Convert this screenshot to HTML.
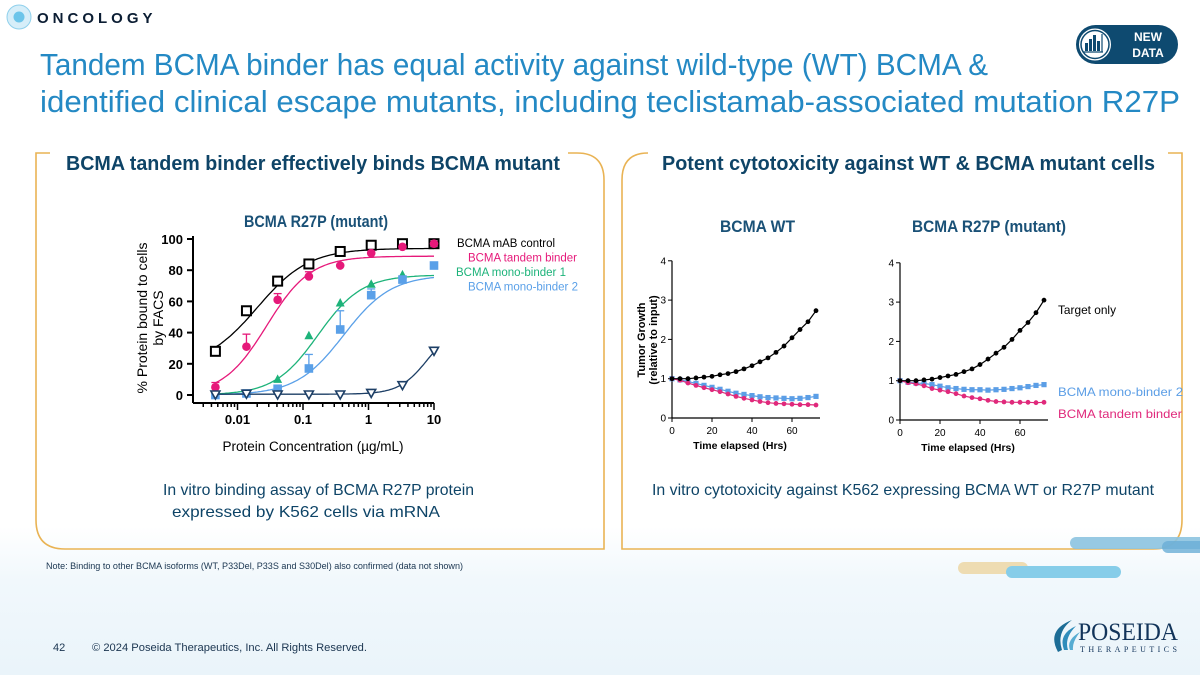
<!DOCTYPE html>
<html><head><meta charset="utf-8">
<style>
html,body{margin:0;padding:0;width:1200px;height:675px;overflow:hidden;background:#fff;}
svg text{font-family:"Liberation Sans",sans-serif;}
</style></head>
<body>
<svg id="slide" width="1200" height="675" viewBox="0 0 1200 675" xmlns="http://www.w3.org/2000/svg">
<defs>
<linearGradient id="bg" x1="0" y1="0" x2="0" y2="1">
<stop offset="0" stop-color="#ffffff"/><stop offset="0.78" stop-color="#ffffff"/><stop offset="0.86" stop-color="#f1f8fc"/><stop offset="1" stop-color="#eaf4fa"/>
</linearGradient>
</defs>
<rect width="1200" height="675" fill="url(#bg)"/>

<g>
<circle cx="19" cy="17" r="12" fill="#d6eef9" stroke="#8fd0ec" stroke-width="1"/>
<circle cx="19" cy="17" r="5.5" fill="#6cc5ea"/>
<text x="37" y="23" font-size="15" font-weight="bold" fill="#0b1d33" letter-spacing="4">ONCOLOGY</text>
</g>

<g>
<rect x="1076" y="25" width="102" height="39" rx="19.5" fill="#0e4a70"/>
<circle cx="1095" cy="44.5" r="17" fill="#fff" stroke="#0e4a70" stroke-width="2"/>
<circle cx="1095" cy="44.5" r="14" fill="none" stroke="#0e4a70" stroke-width="1.5"/>
<rect x="1085" y="43" width="3" height="8" fill="#0e4a70"/><rect x="1089" y="39" width="3" height="12" fill="#0e4a70"/><rect x="1093" y="35" width="3" height="16" fill="#0e4a70"/><rect x="1097" y="41" width="3" height="10" fill="#0e4a70"/>
<line x1="1102" y1="34" x2="1102" y2="52" stroke="#0e4a70" stroke-width="1.2"/><line x1="1083" y1="52" x2="1103" y2="52" stroke="#0e4a70" stroke-width="1.2"/>
<text x="1148" y="41" font-size="12" font-weight="bold" fill="#fff" text-anchor="middle">NEW</text>
<text x="1148" y="57" font-size="12" font-weight="bold" fill="#fff" text-anchor="middle">DATA</text>
</g>

<g fill="#2489c4" font-size="31">
<text x="40" y="75" textLength="948" lengthAdjust="spacingAndGlyphs">Tandem BCMA binder has equal activity against wild-type (WT) BCMA &amp;</text>
<text x="40" y="112" textLength="1140" lengthAdjust="spacingAndGlyphs">identified clinical escape mutants, including teclistamab-associated mutation R27P</text>
</g>

<g fill="none" stroke="#e9b354" stroke-width="1.6">
<path d="M50 153 H36 V520 Q36 549 65 549 H604 V180 Q604 153 577 153 H568"/>
<path d="M648 153 Q622 153 622 180 V549 H1153 Q1182 549 1182 520 V153 H1168"/>
</g>
<text x="66" y="170" font-size="20.5" font-weight="bold" fill="#0e4467" textLength="494" lengthAdjust="spacingAndGlyphs">BCMA tandem binder effectively binds BCMA mutant</text>
<text x="662" y="170" font-size="20.5" font-weight="bold" fill="#0e4467" textLength="493" lengthAdjust="spacingAndGlyphs">Potent cytotoxicity against WT &amp; BCMA mutant cells</text>

<text x="244" y="227" font-size="16.5" font-weight="bold" fill="#1a5177" textLength="144" lengthAdjust="spacingAndGlyphs">BCMA R27P (mutant)</text>
<text x="720" y="232" font-size="16.5" font-weight="bold" fill="#1a5177" textLength="75" lengthAdjust="spacingAndGlyphs">BCMA WT</text>
<text x="912" y="232" font-size="16.5" font-weight="bold" fill="#1a5177" textLength="154" lengthAdjust="spacingAndGlyphs">BCMA R27P (mutant)</text>

<g id="binding"></g>
<g id="cyto1"></g>
<g id="cyto2"></g>

<g font-size="16" fill="#0e4467">
<text x="163" y="495" textLength="311" lengthAdjust="spacingAndGlyphs">In vitro binding assay of BCMA R27P protein</text>
<text x="172" y="517" textLength="268" lengthAdjust="spacingAndGlyphs">expressed by K562 cells via mRNA</text>
</g>
<text x="652" y="495" font-size="16" fill="#0e4467" textLength="502" lengthAdjust="spacingAndGlyphs">In vitro cytotoxicity against K562 expressing BCMA WT or R27P mutant</text>

<text x="46" y="569" font-size="9" fill="#1a3550" textLength="417" lengthAdjust="spacingAndGlyphs">Note: Binding to other BCMA isoforms (WT, P33Del, P33S and S30Del) also confirmed (data not shown)</text>

<g>
<rect x="1070" y="537" width="140" height="12" rx="6" fill="#8cc3e0" opacity="0.9"/>
<rect x="1162" y="541" width="50" height="12" rx="6" fill="#6aaed6" opacity="0.8"/>
<rect x="958" y="562" width="70" height="12" rx="6" fill="#eedcb2"/>
<rect x="1006" y="566" width="115" height="12" rx="6" fill="#86cde9"/>
</g>

<text x="53" y="651" font-size="11" fill="#1a3550">42</text>
<text x="92" y="651" font-size="11" fill="#1a3550" textLength="275" lengthAdjust="spacingAndGlyphs">© 2024 Poseida Therapeutics, Inc. All Rights Reserved.</text>

<g>
<path d="M1058 652 Q1046 630 1072 620 Q1056 632 1062 650 Z" fill="#1c6d96"/>
<path d="M1064 650 Q1058 634 1076 626 Q1064 638 1068 650 Z" fill="#2f8dbb"/>
<path d="M1070 650 Q1066 640 1080 632 Q1072 642 1073 650 Z" fill="#56acd2"/>
<text x="1078" y="640" style="font-family:'Liberation Serif',serif" font-size="25" fill="#12345a" textLength="100" lengthAdjust="spacingAndGlyphs">POSEIDA</text>
<text x="1080" y="652" style="font-family:'Liberation Serif',serif" font-size="8" fill="#12345a" textLength="97" lengthAdjust="spacing">THERAPEUTICS</text>
</g>
</svg>

<script>
// ---------- Binding chart data ----------
const concentrations = [0.0046, 0.0137, 0.041, 0.123, 0.37, 1.1, 3.3, 10];
const mabControl     = [28, 54, 73, 84, 92, 96, 97, 97];
const tandemBinder   = [5, 31, 61, 76, 83, 91, 95, 97];
const monoBinder1    = [null, null, 10, 38, 59, 71, 77, null];
const monoBinder2    = [0, 1, 4, 17, 42, 64, 74, 83];
const isotypeNeg     = [0, 0.5, 0, 0, 0, 1, 6, 28];
const errTandem      = [8, 39, 65, 79, null, null, null, null];
const errMono2       = [null, null, null, 26, 54, 68, null, null];
// 4PL fit params: [bottom, top, EC50, hill]
const fitMab    = [18, 94, 0.02, 1.1];
const fitTandem = [0, 89, 0.028, 1.3];
const fitMono1  = [0, 77, 0.17, 1.3];
const fitMono2  = [0, 77, 0.42, 1.2];
const fitNeg    = [0.5, 45, 8, 2];
const yTicksB = [0, 20, 40, 60, 80, 100];
const xTicksB = [0.01, 0.1, 1, 10];

// ---------- Cytotoxicity data ----------
const hours = [0,4,8,12,16,20,24,28,32,36,40,44,48,52,56,60,64,68,72];
const wtTarget = [1,1,1,1.02,1.04,1.06,1.1,1.13,1.18,1.25,1.33,1.43,1.53,1.67,1.83,2.04,2.25,2.45,2.73];
const wtMono2  = [1,0.97,0.93,0.88,0.83,0.78,0.73,0.68,0.63,0.6,0.57,0.54,0.52,0.51,0.5,0.49,0.5,0.52,0.55];
const wtTandem = [1,0.96,0.89,0.83,0.77,0.72,0.67,0.61,0.55,0.5,0.46,0.42,0.39,0.37,0.36,0.35,0.34,0.34,0.33];
const mutTarget = [1,1,1,1.02,1.04,1.08,1.12,1.16,1.23,1.3,1.41,1.55,1.7,1.85,2.05,2.28,2.48,2.73,3.05];
const mutMono2  = [1,0.96,0.94,0.93,0.9,0.86,0.82,0.8,0.78,0.77,0.77,0.76,0.77,0.78,0.8,0.82,0.85,0.88,0.9];
const mutTandem = [1,0.95,0.92,0.87,0.8,0.76,0.72,0.67,0.61,0.57,0.54,0.5,0.47,0.46,0.45,0.45,0.45,0.44,0.45];
const yTicksC = [0,1,2,3,4];
const xTicksC = [0,20,40,60];

const NS = 'http://www.w3.org/2000/svg';
function mk(parent, tag, attrs, text){
  const e = document.createElementNS(NS, tag);
  for (const k in attrs) e.setAttribute(k, attrs[k]);
  if (text !== undefined) e.textContent = text;
  parent.appendChild(e);
  return e;
}

// ----- binding chart -----
(function(){
  const g = document.getElementById('binding');
  const x = v => 434 + (Math.log10(v) - 1) * 65.5;
  const y = v => 395 - v * 1.56;
  const fit = (p, v) => p[0] + (p[1]-p[0]) / (1 + Math.pow(10, (Math.log10(p[2]) - Math.log10(v)) * p[3]));
  let e;
  e = mk(g,'line',{x1:193,y1:236,x2:193,y2:403,stroke:'#000','stroke-width':2});
   
  e = mk(g,'line',{x1:193,y1:403,x2:434,y2:403,stroke:'#000','stroke-width':2});
   
  yTicksB.forEach(t=>{
    mk(g,'line',{x1:187,y1:y(t),x2:193,y2:y(t),stroke:'#000','stroke-width':2});
    e = mk(g,'text',{x:183,y:y(t)+5,'font-size':13,'font-weight':'bold','text-anchor':'end'},String(t));
     
  });
  for (let d=-3; d<=0; d++) for (let m=1; m<=9; m++){
    const v = m*Math.pow(10,d); const px = x(v);
    if (px < 193) continue;
    mk(g,'line',{x1:px,y1:403,x2:px,y2:m===1?410:407,stroke:'#000','stroke-width':1.5});
  }
  mk(g,'line',{x1:x(10),y1:403,x2:x(10),y2:410,stroke:'#000','stroke-width':1.5});
  xTicksB.forEach(t=>{
    e = mk(g,'text',{x:x(t),y:424,'font-size':13,'font-weight':'bold','text-anchor':'middle'},String(t));
     
  });
  e = mk(g,'text',{x:313,y:451,'font-size':13.5,'text-anchor':'middle'},'Protein Concentration (µg/mL)');
   
  const yt = mk(g,'g',{transform:'translate(147,318) rotate(-90)'});
   
  mk(yt,'text',{x:0,y:0,'font-size':14,'text-anchor':'middle'},'% Protein bound to cells');
  mk(yt,'text',{x:0,y:16,'font-size':14,'text-anchor':'middle'},'by FACS');

  const series = [
    {d:mabControl, p:fitMab, c:'#000000', shape:'osq', name:'mab-control'},
    {d:tandemBinder, p:fitTandem, c:'#e6197a', shape:'circ', name:'tandem-binder', err:errTandem},
    {d:monoBinder1, p:fitMono1, c:'#1db37a', shape:'tri', name:'mono-binder-1'},
    {d:monoBinder2, p:fitMono2, c:'#5aa0e8', shape:'sq', name:'mono-binder-2', err:errMono2},
    {d:isotypeNeg, p:fitNeg, c:'#1d3f66', shape:'dtri', name:'negative-control'}
  ];
  series.forEach(s=>{
    let pts=[];
    for (let i=0;i<=120;i++){ const lv = Math.log10(0.0046) + i*(1-Math.log10(0.0046))/120; const v=Math.pow(10,lv); pts.push(x(v).toFixed(1)+','+y(fit(s.p,v)).toFixed(1)); }
    const c = mk(g,'polyline',{points:pts.join(' '),fill:'none',stroke:s.c,'stroke-width':1.3});
    
    
    if (s.err) s.err.forEach((ev,i)=>{ if(ev===null) return;
      mk(g,'line',{x1:x(concentrations[i]),y1:y(s.d[i]),x2:x(concentrations[i]),y2:y(ev),stroke:s.c,'stroke-width':1.3});
      mk(g,'line',{x1:x(concentrations[i])-4,y1:y(ev),x2:x(concentrations[i])+4,y2:y(ev),stroke:s.c,'stroke-width':1.3});
    });
    s.d.forEach((v,i)=>{ if(v===null) return;
      const cx=x(concentrations[i]), cy=y(v); let m;
      if (s.shape==='osq') m=mk(g,'rect',{x:cx-4.5,y:cy-4.5,width:9,height:9,fill:'#fff',stroke:s.c,'stroke-width':2});
      else if (s.shape==='circ') m=mk(g,'circle',{cx:cx,cy:cy,r:4.3,fill:s.c});
      else if (s.shape==='tri') m=mk(g,'polygon',{points:`${cx},${cy-5} ${cx-4.5},${cy+3.5} ${cx+4.5},${cy+3.5}`,fill:s.c});
      else if (s.shape==='sq') m=mk(g,'rect',{x:cx-4.3,y:cy-4.3,width:8.6,height:8.6,fill:s.c});
      else m=mk(g,'polygon',{points:`${cx-4.5},${cy-4} ${cx+4.5},${cy-4} ${cx},${cy+4}`,fill:'#fff',stroke:s.c,'stroke-width':1.6});
      
      
    });
  });
  const leg=[['BCMA mAB control',457,'#000',98],['BCMA tandem binder',468,'#e6197a',109],['BCMA mono-binder 1',456,'#1db37a',110],['BCMA mono-binder 2',468,'#5aa0e8',110]];
  leg.forEach((l,i)=>{ e=mk(g,'text',{x:l[1],y:247+i*14.5,'font-size':11.5,fill:l[2],textLength:l[3],lengthAdjust:'spacingAndGlyphs'},l[0]);
      });
})();

// ----- cytotoxicity charts -----
function cyto(id, x0, y0, target, mono, tandem, showYTitle, legend){
  const g = document.getElementById(id);
  const x = v => x0 + v*2.0;
  const y = v => y0 - v*39.3;
  let e;
  e = mk(g,'line',{x1:x0,y1:y(4),x2:x0,y2:y(0),stroke:'#000','stroke-width':1.2});
   
  e = mk(g,'line',{x1:x0,y1:y(0),x2:x(72)+4,y2:y(0),stroke:'#000','stroke-width':1.2});
   
  yTicksC.forEach(t=>{ mk(g,'line',{x1:x0-4,y1:y(t),x2:x0,y2:y(t),stroke:'#000','stroke-width':1});
    e=mk(g,'text',{x:x0-6,y:y(t)+3.5,'font-size':10,'text-anchor':'end'},String(t));
      });
  xTicksC.forEach(t=>{ mk(g,'line',{x1:x(t),y1:y(0),x2:x(t),y2:y(0)+4,stroke:'#000','stroke-width':1});
    e=mk(g,'text',{x:x(t),y:y(0)+16,'font-size':10,'text-anchor':'middle'},String(t));
      });
  e=mk(g,'text',{x:x0+68,y:y0+31,'font-size':10.5,'font-weight':'bold','text-anchor':'middle'},'Time elapsed (Hrs)');
   
  if (showYTitle){
    const yt = mk(g,'g',{transform:'translate(645,340) rotate(-90)'});
     
    mk(yt,'text',{x:0,y:0,'font-size':11,'font-weight':'bold','text-anchor':'middle'},'Tumor Growth');
    mk(yt,'text',{x:0,y:12,'font-size':11,'font-weight':'bold','text-anchor':'middle'},'(relative to input)');
  }
  [[mono,'#5b9ee6','sq','mono-binder-2'],[tandem,'#e0297b','circ','tandem-binder'],[target,'#000','circ','target-only']].forEach(s=>{
    const l = mk(g,'polyline',{points:hours.map((h,i)=>x(h)+','+y(s[0][i])).join(' '),fill:'none',stroke:s[1],'stroke-width':1.2});
    
    
    hours.forEach((h,i)=>{ let m;
      if (s[2]==='sq') m=mk(g,'rect',{x:x(h)-2.6,y:y(s[0][i])-2.6,width:5.2,height:5.2,fill:s[1]});
      else m=mk(g,'circle',{cx:x(h),cy:y(s[0][i]),r:2.4,fill:s[1]});
      
      
    });
  });
  if (legend){
    [['Target only',314,'#000',58],['BCMA mono-binder 2',396,'#5b9ee6',125],['BCMA tandem binder',418,'#e0297b',124]].forEach(l=>{
      e=mk(g,'text',{x:1058,y:l[1],'font-size':12,fill:l[2],textLength:l[3],lengthAdjust:'spacingAndGlyphs'},l[0]);
       
    });
  }
}
cyto('cyto1', 672, 418, wtTarget, wtMono2, wtTandem, true, false);
cyto('cyto2', 900, 420, mutTarget, mutMono2, mutTandem, false, true);
</script>
</body></html>
